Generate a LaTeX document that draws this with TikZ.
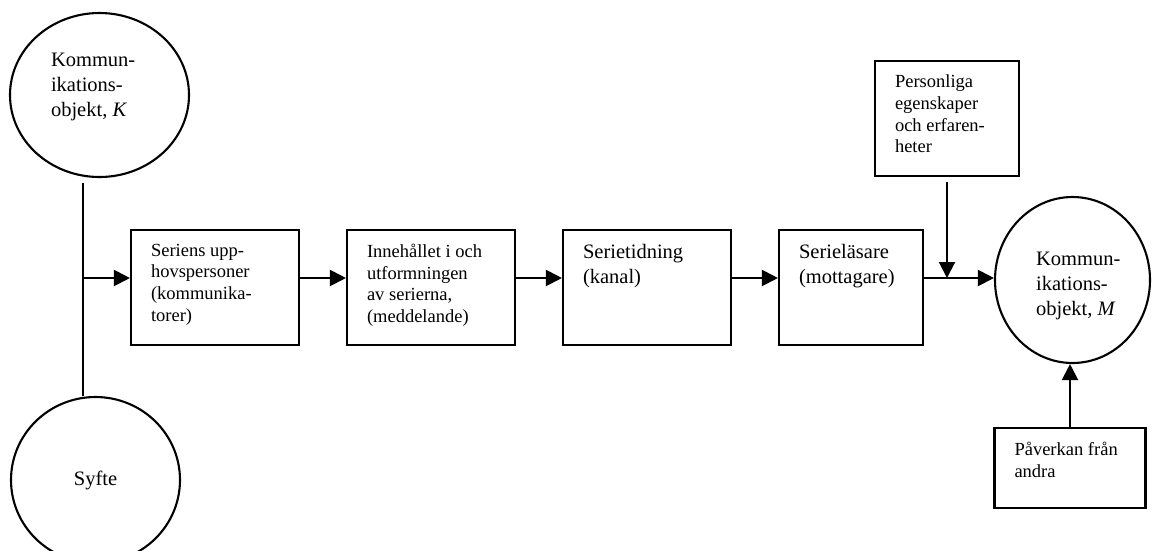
\documentclass[tikz,border=0pt]{standalone}
\usepackage{fontspec}
\setmainfont{Liberation Serif}
\usetikzlibrary{shapes.geometric,arrows.meta,calc}

\begin{document}
\begin{tikzpicture}[x=1pt,y=-1pt,line width=2.1pt,
    box/.style={draw,rectangle,minimum width=168pt,minimum height=115pt,inner sep=0pt},
    oval/.style={draw,ellipse,inner sep=0pt},
    smalltext/.style={font=\fontsize{18.5}{21.7}\selectfont},
    bigtext/.style={font=\fontsize{20.5}{25}\selectfont},
    txt/.style={anchor=north west,align=left,inner sep=0pt,xshift=20pt,yshift=-14pt},
    otxt/.style={anchor=north west,align=left,inner sep=0pt},
    arr/.style={-{Triangle[length=16pt,width=16pt]}}]
    \useasboundingbox (0,0) rectangle (1152,550);

    \node[oval,minimum width=179pt,minimum height=164pt] (K) at (99.5,95) {};
    \node[otxt,bigtext] (Kt) at ($(K.center)+(-49.5,-42.6)$) {Kommun-\\ikations-\\objekt, \textit{K}};
    \node[oval,bigtext,minimum width=169pt,minimum height=166pt] (S) at (95.5,480) {Syfte};

    \node[box,label={[txt,smalltext]north west:{Seriens upp-\\hovspersoner\\(kommunika-\\torer)}}] (b1) at (215,287.5) {};
    \node[box,label={[txt,smalltext]north west:{Innehållet i och\\utformningen\\av serierna,\\(meddelande)}}] (b2) at (431,287.5) {};
    \node[box,label={[txt,bigtext]north west:{Serietidning\\(kanal)}}] (b3) at (647,287.5) {};
    \node[box,minimum width=144pt,label={[txt,bigtext]north west:{Serieläsare\\(mottagare)}}] (b4) at (851,287.5) {};

    \node[oval,minimum width=155pt,minimum height=166pt] (M) at (1072.5,280) {};
    \node[otxt,bigtext] (Mt) at ($(M.center)+(-37.5,-29)$) {Kommun-\\ikations-\\objekt, \textit{M}};
    \node[box,minimum width=144pt,label={[txt,smalltext]north west:{Personliga\\egenskaper\\och erfaren-\\heter}}] (P) at (947,118.5) {};
    \node[box,minimum width=151pt,minimum height=80pt,label={[txt,smalltext]north west:{Påverkan från\\andra}}] (A) at (1070,468) {};

    \coordinate (j) at (83,278);

    \draw ($(j |- K.south)+(0,5)$) -- (j |- S.north);
    \draw[arr] (j) -- (j -| b1.west);
    \draw[arr] (b1.east |- j) -- (b2.west |- j);
    \draw[arr] (b2.east |- j) -- (b3.west |- j);
    \draw[arr] (b3.east |- j) -- (b4.west |- j);
    \draw[arr] (b4.east |- j) -- (M.west |- j);
    \draw[arr] ($(P.south)+(0,5)$) -- (P.south |- j);
    \draw[arr] (A.north) -- (A.north |- M.south);
  \end{tikzpicture}
\end{document}
